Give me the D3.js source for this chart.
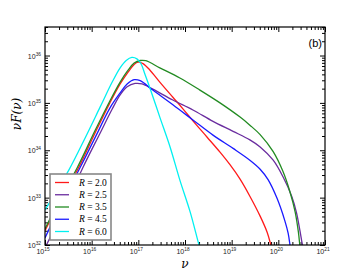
<!DOCTYPE html>
<html>
<head>
<meta charset="utf-8">
<script src="https://cdn.jsdelivr.net/npm/d3@7"></script>
<style>
  body { margin: 0; background: #fff; }
  svg { display: block; }
</style>
</head>
<body>
<svg width="363" height="273"></svg>
<script>
// values are log10 exponents
const rValues = ["2.0", "2.5", "3.5", "4.5", "6.0"];
const colors = ["#ff1a1a", "#6a2d9f", "#228b22", "#1a1aff", "#00f0f0"];

const nuR20 = [15.00, 15.32, 15.71, 16.07, 16.39, 16.61, 16.78, 16.91, 16.99, 17.10, 17.25, 17.46, 17.74, 17.96, 18.17, 18.47, 18.75, 18.96, 19.18, 19.39, 19.61, 19.76, 19.84, 19.875];
const fluxR20 = [32.30, 32.93, 33.615, 34.36, 35.00, 35.40, 35.65, 35.81, 35.86, 35.83, 35.69, 35.44, 35.12, 34.87, 34.62, 34.28, 33.96, 33.70, 33.39, 33.03, 32.61, 32.27, 32.0, 31.87];

const nuR25 = [15.00, 15.43, 15.81, 16.18, 16.44, 16.61, 16.76, 16.93, 17.08, 17.31, 17.74, 18.17, 18.60, 19.03, 19.39, 19.61, 19.89, 20.10, 20.29, 20.39, 20.46, 20.51, 20.53];
const fluxR25 = [31.94, 32.80, 33.63, 34.36, 34.87, 35.17, 35.34, 35.41, 35.40, 35.29, 35.06, 34.85, 34.61, 34.40, 34.22, 34.07, 33.79, 33.44, 33.02, 32.68, 32.32, 32.04, 31.96];

const nuR35 = [15.00, 15.32, 15.69, 16.07, 16.39, 16.61, 16.78, 16.91, 17.04, 17.16, 17.46, 17.89, 18.32, 18.75, 19.18, 19.39, 19.61, 19.89, 20.10, 20.25, 20.36, 20.43, 20.46, 20.477];
const fluxR35 = [32.34, 32.97, 33.63, 34.41, 35.04, 35.44, 35.69, 35.84, 35.895, 35.89, 35.74, 35.525, 35.27, 35.00, 34.70, 34.53, 34.33, 33.97, 33.55, 33.12, 32.70, 32.27, 32.0, 31.87];

const nuR45 = [15.00, 15.36, 15.75, 16.11, 16.39, 16.61, 16.76, 16.91, 17.04, 17.31, 17.74, 18.17, 18.60, 19.03, 19.39, 19.61, 19.78, 19.97, 20.14, 20.21, 20.25, 20.27];
const fluxR45 = [32.15, 32.89, 33.63, 34.34, 34.89, 35.21, 35.40, 35.49, 35.47, 35.27, 34.96, 34.64, 34.32, 34.04, 33.79, 33.60, 33.38, 32.99, 32.51, 32.25, 32.0, 31.87];

const nuR60 = [15.00, 15.51, 15.86, 16.18, 16.44, 16.61, 16.74, 16.86, 16.97, 17.06, 17.14, 17.25, 17.46, 17.68, 17.89, 18.11, 18.30, 18.36];
const fluxR60 = [32.74, 33.58, 34.26, 34.91, 35.44, 35.74, 35.895, 35.96, 35.93, 35.82, 35.61, 35.31, 34.70, 34.07, 33.37, 32.70, 32.0, 31.8];

const xExponents = [15, 16, 17, 18, 19, 20, 21];
const yExponents = [32, 33, 34, 35, 36];

const nuList = [nuR20, nuR25, nuR35, nuR45, nuR60];
const fluxList = [fluxR20, fluxR25, fluxR35, fluxR45, fluxR60];

const plotLeft = 45, plotRight = 325, plotTop = 27, plotBottom = 245;

const x = d3.scaleLog().domain([1e15, 1e21]).range([plotLeft, plotRight]);
const y = d3.scaleLog().domain([1e32, 4e36]).range([plotBottom, plotTop]);

const svg = d3.select("svg");

svg.append("defs").append("clipPath").attr("id", "plot-clip")
  .append("rect")
  .attr("x", plotLeft).attr("y", plotTop)
  .attr("width", plotRight - plotLeft).attr("height", plotBottom - plotTop);

// minor tick positions
const xMinor = [];
for (let e = 15; e < 21; e++) for (let k = 2; k <= 9; k++) xMinor.push(k * Math.pow(10, e));
const yMinor = [];
for (let e = 32; e <= 36; e++) for (let k = 2; k <= 9; k++) {
  const v = k * Math.pow(10, e);
  if (v <= 4e36) yMinor.push(v);
}
const xMajor = xExponents.map((e) => Math.pow(10, e));
const yMajor = yExponents.map((e) => Math.pow(10, e));

function addAxis(axisFn, scale, pos, values, size) {
  const g = svg.append("g")
    .attr("transform", pos)
    .call(axisFn(scale).tickValues(values).tickSize(-size).tickFormat(""));
  g.select(".domain").remove();
  g.selectAll("line").attr("stroke", "#000").attr("stroke-width", 1);
}

addAxis(d3.axisBottom, x, `translate(0,${plotBottom})`, xMajor, 5);
addAxis(d3.axisBottom, x, `translate(0,${plotBottom})`, xMinor, 3);
addAxis(d3.axisTop, x, `translate(0,${plotTop})`, xMajor, 5);
addAxis(d3.axisTop, x, `translate(0,${plotTop})`, xMinor, 3);
addAxis(d3.axisLeft, y, `translate(${plotLeft},0)`, yMajor, 5);
addAxis(d3.axisLeft, y, `translate(${plotLeft},0)`, yMinor, 3);
addAxis(d3.axisRight, y, `translate(${plotRight},0)`, yMajor, 5);
addAxis(d3.axisRight, y, `translate(${plotRight},0)`, yMinor, 3);

// curves
const line = d3.line()
  .x((d) => x(Math.pow(10, d[0])))
  .y((d) => y(Math.pow(10, d[1])))
  .curve(d3.curveCatmullRom.alpha(0.5));

const curves = svg.append("g").attr("clip-path", "url(#plot-clip)");
nuList.forEach((nus, i) => {
  const pts = nus.map((n, j) => [n, fluxList[i][j]]);
  curves.append("path")
    .attr("d", line(pts))
    .attr("fill", "none")
    .attr("stroke", colors[i])
    .attr("stroke-width", 1.3);
});

// frame
svg.append("rect")
  .attr("x", plotLeft).attr("y", plotTop)
  .attr("width", plotRight - plotLeft).attr("height", plotBottom - plotTop)
  .attr("fill", "none").attr("stroke", "#000").attr("stroke-width", 1.2);

// tick labels
const tickFont = "Liberation Sans, Arial, sans-serif";
xExponents.forEach((e) => {
  const t = svg.append("text")
    .attr("x", x(Math.pow(10, e)) - 2)
    .attr("y", plotBottom + 9)
    .attr("text-anchor", "middle")
    .attr("font-family", tickFont)
    .attr("font-size", 7)
    .attr("fill", "#222");
  t.append("tspan").text("10");
  t.append("tspan").attr("font-size", 4.8).attr("dy", -3).text(e);
});
yExponents.forEach((e) => {
  const t = svg.append("text")
    .attr("x", plotLeft - 4)
    .attr("y", y(Math.pow(10, e)) + 3)
    .attr("text-anchor", "end")
    .attr("font-family", tickFont)
    .attr("font-size", 7)
    .attr("fill", "#222");
  t.append("tspan").text("10");
  t.append("tspan").attr("font-size", 4.8).attr("dy", -3).text(e);
});

// axis titles
svg.append("text")
  .attr("x", (plotLeft + plotRight) / 2)
  .attr("y", 268)
  .attr("text-anchor", "middle")
  .attr("font-family", "DejaVu Serif, serif")
  .attr("font-style", "italic")
  .attr("font-size", 12)
  .text("ν");

svg.append("text")
  .attr("transform", "translate(21,114) rotate(-90)")
  .attr("text-anchor", "middle")
  .attr("font-family", "DejaVu Serif, serif")
  .attr("font-style", "italic")
  .attr("font-size", 12)
  .text("νF(ν)");

svg.append("text")
  .attr("x", 322).attr("y", 47)
  .attr("text-anchor", "end")
  .attr("font-family", tickFont)
  .attr("font-size", 11)
  .text("(b)");

// legend
const legend = svg.append("g");
legend.append("rect")
  .attr("x", 50).attr("y", 174)
  .attr("width", 61).attr("height", 66)
  .attr("fill", "#fff")
  .attr("stroke", "#888").attr("stroke-width", 1.6);

const legendRow = d3.scaleLinear().domain([0, rValues.length - 1]).range([182.5, 231.5]);
rValues.forEach((r, i) => {
  const yy = legendRow(i);
  legend.append("line")
    .attr("x1", 55).attr("x2", 69)
    .attr("y1", yy).attr("y2", yy)
    .attr("stroke", colors[i]).attr("stroke-width", 1.3);
  const t = legend.append("text")
    .attr("x", 79).attr("y", yy + 3.2)
    .attr("font-family", "Liberation Serif, serif")
    .attr("font-size", 9.5);
  t.append("tspan").attr("font-style", "italic").text("R");
  t.append("tspan").text(" = " + r);
});
</script>
</body>
</html>
